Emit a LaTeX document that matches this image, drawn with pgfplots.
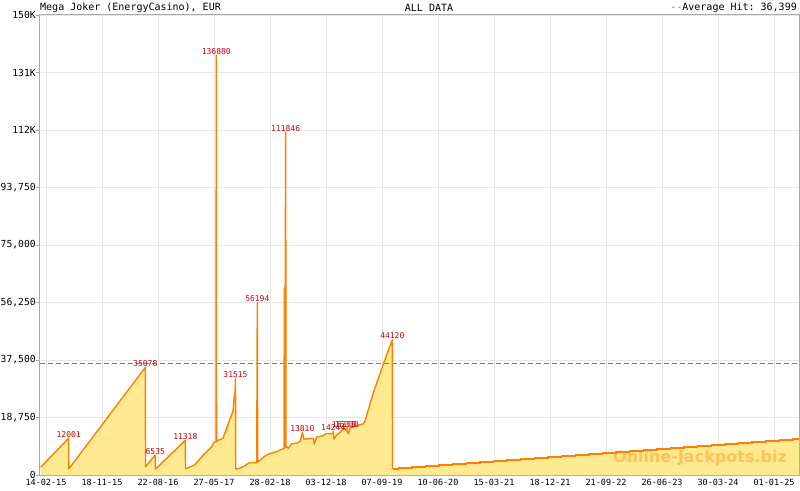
\documentclass[border=0pt]{standalone}
\usepackage{pgfplots}
\pgfplotsset{compat=1.18}
\usepackage{pgfplotstable}
\usepackage{fontspec}
\setmainfont{DejaVu Sans}
\setsansfont{DejaVu Sans}
\setmonofont{DejaVu Sans Mono}

\definecolor{jpline}{RGB}{255,128,0}
\definecolor{jpfill}{RGB}{255,234,145}
\definecolor{avgblue}{RGB}{51,153,204}
\definecolor{peakred}{RGB}{204,0,0}
\definecolor{axgray}{RGB}{170,170,170}
\definecolor{gridgray}{RGB}{232,232,232}

% x = position in tick intervals (0 = 14-02-15, 1 interval ~ 278 days)
\pgfplotstableread{
u v
-0.095 2500
0.405 12001
0.408 2000
1.773 35078
1.777 2700
1.952 6535
1.955 1900
2.488 11318
2.491 2000
2.655 3300
2.773 5800
2.952 9100
3.000 10600
3.036 10800
3.041 136880
3.046 11000
3.071 11250
3.161 12000
3.220 15000
3.280 18000
3.339 20800
3.366 26600
3.372 24600
3.384 31515
3.388 2000
3.464 2200
3.554 3050
3.630 4000
3.763 4000
3.773 56194
3.780 4300
3.821 4700
3.880 5800
3.970 6800
4.120 7600
4.209 8400
4.250 8600
4.256 61000
4.262 8700
4.280 111846
4.286 9000
4.298 9300
4.327 8750
4.388 10200
4.477 10400
4.536 10900
4.577 13810
4.607 11700
4.773 12000
4.791 10100
4.834 12400
4.952 12800
5.000 13450
5.120 13450
5.130 14244
5.143 11700
5.191 13100
5.250 13900
5.298 14800
5.321 15338
5.345 14600
5.375 15338
5.382 14000
5.400 13450
5.429 15300
5.548 16100
5.607 16400
5.666 16700
5.696 17500
5.845 26800
6.023 36100
6.184 44120
6.188 1900
}\maindata

\pgfplotstableread{
u v
6.188 1900
6.291 2230
6.534 2560
6.777 2890
7.020 3220
7.263 3550
7.506 3880
7.749 4210
7.992 4540
8.235 4870
8.478 5200
8.721 5530
8.964 5860
9.207 6190
9.450 6520
9.693 6850
9.936 7180
10.179 7510
10.422 7840
10.665 8170
10.908 8500
11.151 8830
11.394 9160
11.637 9490
11.880 9820
12.123 10150
12.366 10480
12.609 10810
12.852 11140
13.095 11470
13.338 11800
13.446 11800
}\taildata

\pgfplotstableread{
u v lab
0.405 12001 12001
1.773 35078 35078
1.952 6535 6535
2.488 11318 11318
3.041 136880 136880
3.384 31515 31515
3.773 56194 56194
4.280 111846 111846
4.577 13810 13810
5.130 14244 14244
5.321 15338 15338
5.375 15338 15338
6.184 44120 44120
}\peakdata

\begin{document}
\begin{tikzpicture}
\begin{axis}[
    name=ax, at={(0,0)}, anchor=south west,
    scale only axis, width=759pt, height=460pt,
    xmin=-0.107, xmax=13.446, ymin=0, ymax=150000,
    xtick={0,1,2,3,4,5,6,7,8,9,10,11,12,13},
    xticklabels={14-02-15,18-11-15,22-08-16,27-05-17,28-02-18,03-12-18,07-09-19,10-06-20,15-03-21,18-12-21,21-09-22,26-06-23,30-03-24,01-01-25},
    ytick={0,18750,37500,56250,75000,93750,112500,131250,150000},
    yticklabels={0,{18,750},{37,500},{56,250},{75,000},{93,750},112K,131K,150K},
    minor x tick num=3,
    grid=major,
    major grid style={gridgray, line width=0.8pt},
    axis line style={axgray, line width=1pt},
    tick style={axgray, line width=0.8pt},
    tick align=outside,
    major tick length=4pt, minor tick length=4pt,
    xtick style={yshift=4pt},
    xtick pos=left, ytick pos=left,
    yticklabel style={font=\ttfamily\fontsize{9.7}{10}\selectfont, xshift=3.3pt},
    xticklabel style={font=\ttfamily\fontsize{8.5}{8.5}\selectfont, yshift=3pt},
    scaled y ticks=false,
]
\addplot[fill=jpfill, draw=none] table {\maindata} \closedcycle;
\addplot[fill=jpfill, draw=none, const plot] table {\taildata} \closedcycle;
\addplot[draw=avgblue, line width=1.1pt, dash pattern=on 5pt off 3pt] coordinates {(-0.107,36399) (13.446,36399)};
\addplot[draw=jpline, line width=1.4pt, line join=round] table {\maindata};
\addplot[draw=jpline, line width=1.4pt, const plot] table {\taildata};
\addplot[draw=none, nodes near coords, point meta=explicit symbolic,
    nodes near coords style={font=\ttfamily\fontsize{8}{8}\selectfont, text=peakred, anchor=south, inner sep=0.6pt}]
    table[meta=lab] {\peakdata};
\end{axis}
\node[anchor=west, inner sep=0, font=\ttfamily\fontsize{10}{10}\selectfont] at ([yshift=7.5pt]ax.north west) {Mega Joker (EnergyCasino), EUR};
\node[inner sep=0, font=\ttfamily\fontsize{10}{10}\selectfont] at ([xshift=389pt,yshift=7.5pt]ax.north west) {ALL DATA};
\node[anchor=east, inner sep=0, font=\ttfamily\fontsize{10}{10}\selectfont] at ([xshift=-2pt,yshift=7.5pt]ax.north east) {\textcolor{avgblue}{-{}-}Average Hit: 36,399};
\node[font=\sffamily\bfseries\fontsize{16}{16}\selectfont, text=jpline, text opacity=0.38] at ([xshift=-99pt,yshift=17pt]ax.south east) {Online-Jackpots.biz};
\pgfresetboundingbox
\path[use as bounding box] ([xshift=-40pt,yshift=-15pt]ax.south west) rectangle ([xshift=1pt,yshift=15pt]ax.north east);
\end{tikzpicture}
\end{document}
